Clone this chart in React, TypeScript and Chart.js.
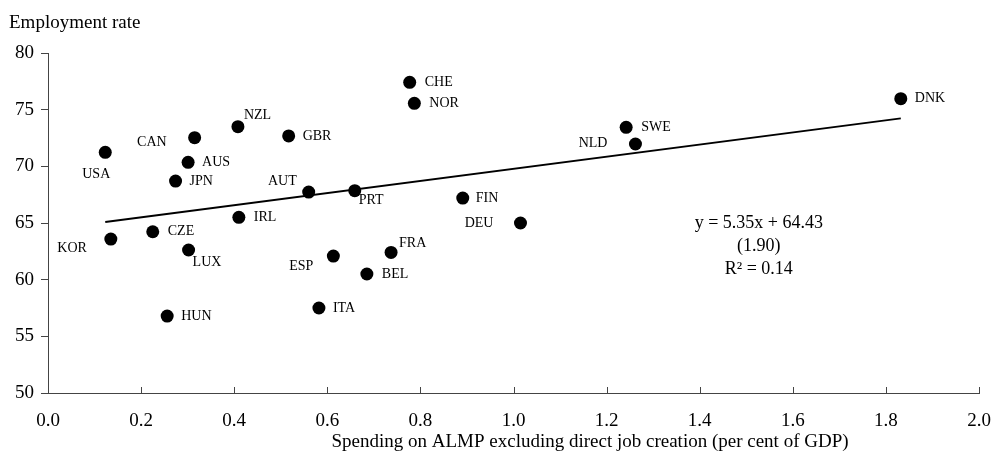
import React, { useEffect, useRef } from "react";
import { Chart, registerables, Plugin } from "chart.js";

Chart.register(...registerables);

// country codes and their values (ALMP spending % GDP, employment rate %)
const countries = [
    "USA", "KOR", "CZE", "HUN", "JPN", "AUS", "LUX", "CAN", "NZL", "IRL", "GBR", "AUT",
    "ITA", "ESP", "PRT", "BEL", "FRA", "CHE", "NOR", "FIN", "DEU", "SWE", "NLD", "DNK"
];
const spending = [
    0.123, 0.135, 0.225, 0.256, 0.274, 0.301, 0.302, 0.315, 0.408, 0.41, 0.517, 0.56,
    0.582, 0.613, 0.659, 0.685, 0.737, 0.777, 0.787, 0.891, 1.015, 1.242, 1.262, 1.832
];
const employment = [
    71.24, 63.58, 64.23, 56.79, 68.7, 70.35, 62.62, 72.53, 73.5, 65.5, 72.68, 67.73,
    57.5, 62.08, 67.85, 60.5, 62.4, 77.41, 75.56, 67.2, 65.0, 73.44, 71.97, 75.97
];

// fitted line as printed on the chart
const slope = 5.35;
const intercept = 64.43;
const equationLines = ["y = 5.35x + 64.43", "(1.90)", "R\u00B2 = 0.14"];

const yTitle = "Employment rate";
const xTitle = "Spending on ALMP excluding direct job creation (per cent of GDP)";

// label placement: [dx, dy, align]
const labelPlacement: Record<string, [number, number, CanvasTextAlign]> = {
    USA: [-9, 22, "center"],
    KOR: [-24, 9, "right"],
    CZE: [15, 0, "left"],
    HUN: [14, 0, "left"],
    JPN: [14, 0, "left"],
    AUS: [14, 0, "left"],
    LUX: [4, 12, "left"],
    CAN: [-28, 5, "right"],
    NZL: [6, -11, "left"],
    IRL: [15, 0, "left"],
    GBR: [14, 0, "left"],
    AUT: [-12, -11, "right"],
    ITA: [14, 0, "left"],
    ESP: [-20, 10, "right"],
    PRT: [4, 10, "left"],
    BEL: [15, 0, "left"],
    FRA: [8, -9, "left"],
    CHE: [15, 0, "left"],
    NOR: [15, 0, "left"],
    FIN: [13, 0, "left"],
    DEU: [-27, 0, "right"],
    SWE: [15, 0, "left"],
    NLD: [-28, -1, "right"],
    DNK: [14, 0, "left"]
};

const FONT = "'Liberation Serif', 'Times New Roman', serif";
const AXIS_COLOR = "#444";

const annotationPlugin: Plugin<"scatter"> = {
    id: "annotations",
    afterDatasetsDraw: (chart) => {
        const { ctx, chartArea, scales } = chart;
        const xs = scales.x;
        const ys = scales.y;
        ctx.save();

        // inward tick marks on the x axis
        ctx.strokeStyle = AXIS_COLOR;
        ctx.lineWidth = 1;
        xs.ticks.forEach((_, i) => {
            const px = Math.round(xs.getPixelForTick(i)) + 0.5;
            ctx.beginPath();
            ctx.moveTo(px, chartArea.bottom);
            ctx.lineTo(px, chartArea.bottom - 6);
            ctx.stroke();
        });

        // country labels
        const meta = chart.getDatasetMeta(0);
        ctx.fillStyle = "#000";
        ctx.font = `14px ${FONT}`;
        ctx.textBaseline = "middle";
        meta.data.forEach((pt, i) => {
            const [dx, dy, align] = labelPlacement[countries[i]] || [14, 0, "left"];
            ctx.textAlign = align;
            ctx.fillText(countries[i], pt.x + dx, pt.y + dy);
        });

        // regression text
        ctx.font = `18px ${FONT}`;
        ctx.textAlign = "center";
        const ex = xs.getPixelForValue(1.527);
        const ey = ys.getPixelForValue(65.0);
        equationLines.forEach((line, i) => ctx.fillText(line, ex, ey + i * 23));

        // axis titles
        ctx.font = `19px ${FONT}`;
        ctx.textAlign = "left";
        ctx.fillText(yTitle, 9, 23);
        ctx.textAlign = "center";
        ctx.fillText(xTitle, 590, 442);

        ctx.restore();
    }
};

const App: React.FC = () => {
    const canvasRef = useRef<HTMLCanvasElement | null>(null);

    useEffect(() => {
        if (!canvasRef.current) return;
        const xMin = Math.min(...spending);
        const xMax = Math.max(...spending);

        const chart = new Chart(canvasRef.current, {
            type: "scatter",
            data: {
                datasets: [
                    {
                        data: spending.map((x, i) => ({ x, y: employment[i] })),
                        backgroundColor: "#000",
                        borderWidth: 0,
                        pointRadius: 6.5,
                        order: 0
                    },
                    {
                        data: [
                            { x: xMin, y: slope * xMin + intercept },
                            { x: xMax, y: slope * xMax + intercept }
                        ],
                        showLine: true,
                        borderColor: "#000",
                        borderWidth: 2,
                        pointRadius: 0,
                        order: 1
                    }
                ]
            },
            options: {
                responsive: false,
                animation: false,
                layout: { padding: { left: 0, top: 53, right: 14, bottom: 0 } },
                plugins: {
                    legend: { display: false },
                    tooltip: { enabled: false }
                },
                scales: {
                    x: {
                        type: "linear",
                        min: 0,
                        max: 2,
                        afterFit: (scale) => {
                            scale.height = 60;
                            scale.paddingLeft = 0;
                            scale.paddingRight = 0;
                        },
                        border: { display: true, color: AXIS_COLOR, width: 1 },
                        grid: { drawOnChartArea: false, drawTicks: false },
                        ticks: {
                            stepSize: 0.2,
                            autoSkip: false,
                            maxRotation: 0,
                            padding: 17,
                            color: "#000",
                            font: { family: FONT, size: 19 },
                            callback: (v) => Number(v).toFixed(1)
                        }
                    },
                    y: {
                        type: "linear",
                        min: 50,
                        max: 80,
                        afterFit: (scale) => { scale.width = 48; },
                        border: { display: true, color: AXIS_COLOR, width: 1 },
                        grid: { drawOnChartArea: false, drawTicks: true, tickLength: 7, color: AXIS_COLOR },
                        ticks: {
                            stepSize: 5,
                            padding: 7,
                            color: "#000",
                            font: { family: FONT, size: 19 }
                        }
                    }
                }
            },
            plugins: [annotationPlugin]
        });

        return () => {
            chart.destroy();
        };
    }, []);

    return (
        <canvas
            ref={canvasRef}
            width={993}
            height={453}
            style={{ position: "absolute", left: 0, top: 0 }}
        ></canvas>
    );
};

export default App;
